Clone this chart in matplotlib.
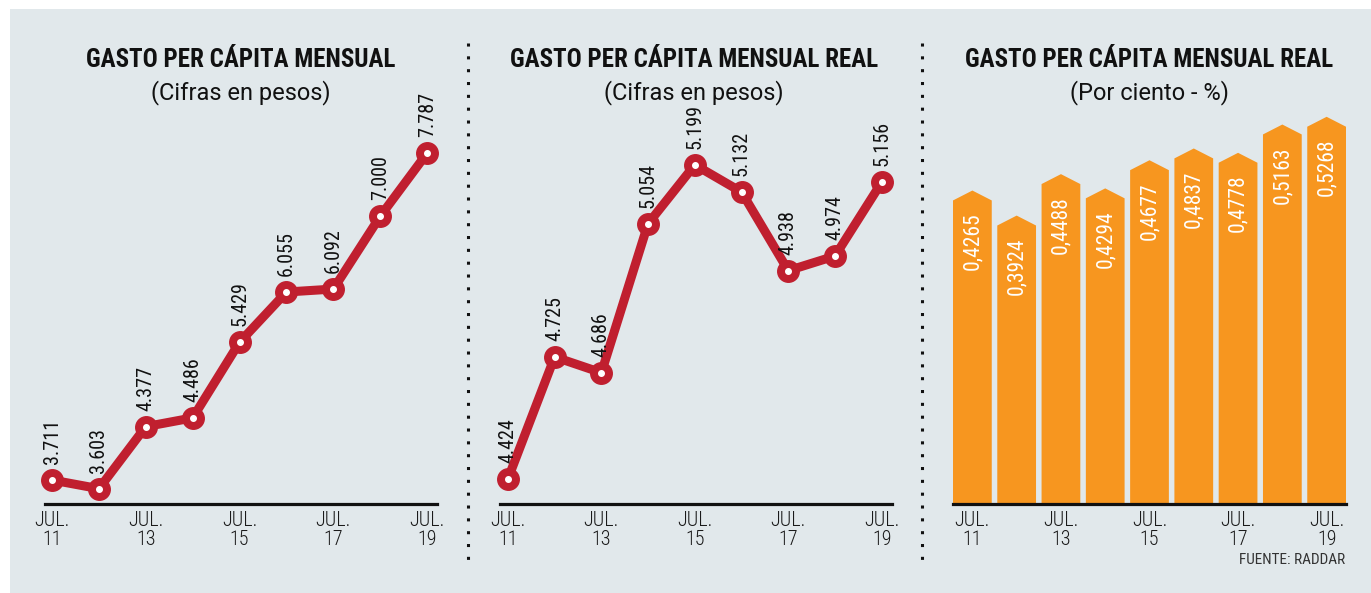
import matplotlib
matplotlib.use("Agg")
import matplotlib.pyplot as plt
from matplotlib.patches import Rectangle
from matplotlib.lines import Line2D

# --- data ---
years = ["11", "12", "13", "14", "15", "16", "17", "18", "19"]
gasto = [3711, 3603, 4377, 4486, 5429, 6055, 6092, 7000, 7787]
gasto_real = [4424, 4725, 4686, 5054, 5199, 5132, 4938, 4974, 5156]
gasto_pct = [0.4265, 0.3924, 0.4488, 0.4294, 0.4677, 0.4837, 0.4778, 0.5163, 0.5268]

titles = ["GASTO PER CÁPITA MENSUAL", "GASTO PER CÁPITA MENSUAL REAL", "GASTO PER CÁPITA MENSUAL REAL"]
subtitles = ["(Cifras en pesos)", "(Cifras en pesos)", "(Por ciento - %)"]

BG = "#e1e8eb"
RED = "#c01f2f"
ORANGE = "#f7961f"
plt.rcParams["font.family"] = ["Roboto Condensed", "DejaVu Sans"]

W, H = 1371, 593
fig = plt.figure(figsize=(W / 100, H / 100), dpi=100)
fig.patch.set_facecolor("white")
fig.add_artist(Rectangle((10 / W, 0), 1 - 10 / W, 1 - 9 / H, transform=fig.transFigure,
                         facecolor=BG, edgecolor="none", zorder=0))


def px_axes(x0, x1, ytop, ybot=504):
    return fig.add_axes([x0 / W, (H - ybot) / H, (x1 - x0) / W, (ybot - ytop) / H])


def style(ax, ticks_at):
    ax.set_facecolor("none")
    for s in ["top", "right", "left"]:
        ax.spines[s].set_visible(False)
    ax.spines["bottom"].set_linewidth(2.3)
    ax.spines["bottom"].set_color("#111111")
    ax.set_yticks([])
    ax.set_xticks(ticks_at)
    ax.set_xticklabels(["JUL.\n" + years[i] for i in ticks_at], fontsize=14.5,
                       fontweight=300, color="#1a1a1a", linespacing=0.98)
    ax.tick_params(axis="x", length=0, pad=5)


ticks = [0, 2, 4, 6, 8]
x = list(range(len(years)))


def line_panel(ax, vals):
    ax.plot(x, vals, color=RED, lw=6.5, solid_joinstyle="round", zorder=2, clip_on=False)
    ax.plot(x, vals, "o", ms=15.5, color=RED, zorder=3, clip_on=False)
    ax.plot(x, vals, "o", ms=4, color="white", zorder=4, clip_on=False)
    for xi, v in zip(x, vals):
        ax.annotate(f"{v:,}".replace(",", "."), (xi, v), xytext=(0, 11.5),
                    textcoords="offset points", rotation=90, ha="center", va="bottom",
                    fontsize=14.5, color="#111111")


# panel 1
ax1 = px_axes(45, 437, 130)
line_panel(ax1, gasto)
ax1.set_xlim(-0.15, 8.21)
ax1.set_ylim(3412, 8075)
style(ax1, ticks)

# panel 2
ax2 = px_axes(500, 892, 130)
line_panel(ax2, gasto_real)
ax2.set_xlim(-0.17, 8.22)
ax2.set_ylim(4362, 5285)
style(ax2, ticks)

# panel 3: arrow-topped bars
ax3 = px_axes(953, 1346, 100)
bw = 0.875
tip = 0.0135
for xi, v in zip(x, gasto_pct):
    xs = [xi - bw / 2, xi + bw / 2, xi + bw / 2, xi, xi - bw / 2]
    ys = [0, 0, v - tip, v, v - tip]
    ax3.fill(xs, ys, color=ORANGE, lw=0, zorder=2)
    ax3.text(xi, v - tip - 0.016, f"{v:.4f}".replace(".", ","), rotation=90,
             ha="center", va="top", fontsize=15.5, color="white", zorder=3)
ax3.set_xlim(-bw / 2, 8 + bw / 2)
ax3.set_ylim(0, 404 / 735)
style(ax3, ticks)

# titles
for cx, t, s in zip([241, 694, 1149], titles, subtitles):
    fig.text(cx / W, 1 - 60 / H, t, ha="center", va="center", fontsize=18,
             fontweight="bold", color="#111111")
    fig.text(cx / W, 1 - 93 / H, s, ha="center", va="center", fontsize=17,
             family=["Roboto", "DejaVu Sans"], color="#111111")

# dotted separators
for sx in [468, 922]:
    fig.add_artist(Line2D([sx / W, sx / W], [1 - 43 / H, 1 - 565 / H], transform=fig.transFigure,
                          color="#111111", lw=2.2, linestyle=(0, (1, 3.2))))

fig.text(1345 / W, 1 - 560 / H, "FUENTE: RADDAR", ha="right", va="center", fontsize=11,
         color="#333333")

fig.savefig("out.png", dpi=100, facecolor=fig.get_facecolor())
